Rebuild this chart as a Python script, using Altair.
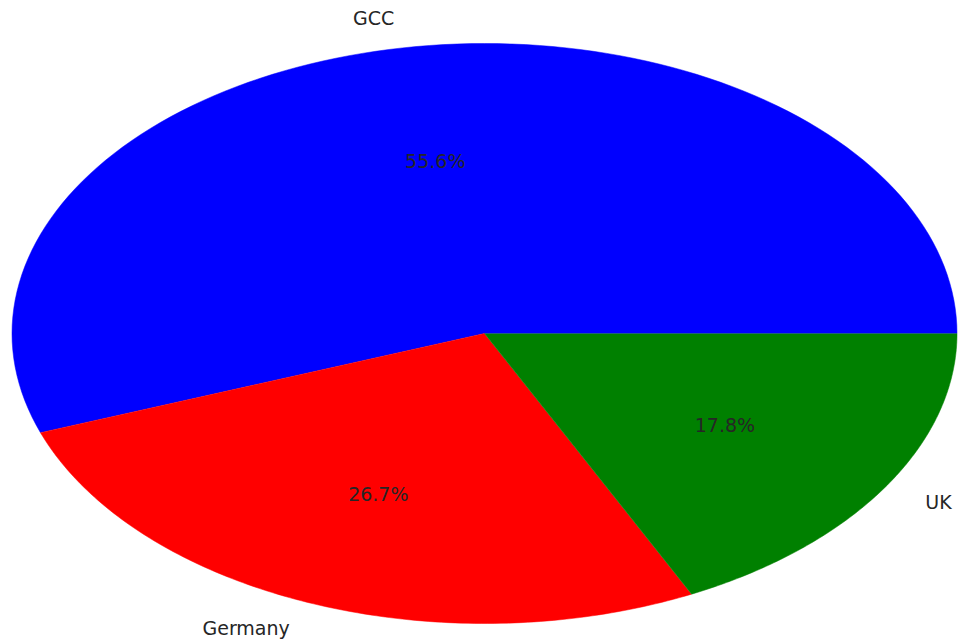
import altair as alt
import pandas as pd

categories = ["GCC", "Germany", "UK"]
values = [25, 12, 8]
colors = ["#0000FF", "#FF0000", "#008000"]

df = pd.DataFrame({"category": categories, "value": values, "order": list(range(len(categories)))})

xs = alt.Scale(domain=[-1.0254, 1.0169], nice=False, zero=False)
ys = alt.Scale(domain=[-1.0638, 1.15], nice=False, zero=False)
cs = alt.Scale(domain=categories, range=colors)

base = alt.Chart(df).transform_joinaggregate(
    total="sum(value)"
).transform_window(
    cum="sum(value)", sort=[alt.SortField("order")], frame=[None, 0]
).transform_calculate(
    start="2*PI*(datum.cum - datum.value)/datum.total",
    end="2*PI*datum.cum/datum.total",
).transform_calculate(
    mid="(datum.start + datum.end)/2"
)

wedges = base.transform_calculate(
    pts="sequence(-1, 121)"
).transform_flatten(["pts"], as_=["k"]).transform_calculate(
    t="datum.start + (datum.end - datum.start)*max(datum.k, 0)/120",
).transform_calculate(
    px="datum.k < 0 ? 0 : cos(datum.t)",
    py="datum.k < 0 ? 0 : sin(datum.t)",
).mark_line(strokeWidth=0.5).encode(
    x=alt.X("px:Q", scale=xs, axis=None),
    y=alt.Y("py:Q", scale=ys, axis=None),
    detail="category:N",
    order="k:Q",
    fill=alt.Fill("category:N", scale=cs, legend=None),
    stroke=alt.Stroke("category:N", scale=cs, legend=None),
)

FS = 19
lab = base.transform_calculate(
    lx="1.1*cos(datum.mid)",
    ly="1.1*sin(datum.mid)",
)
labels_right = lab.transform_filter("cos(datum.mid) < 0").mark_text(
    align="right", baseline="middle", font="DejaVu Sans", fontSize=FS, color="#262626"
).encode(x=alt.X("lx:Q", scale=xs, axis=None), y=alt.Y("ly:Q", scale=ys, axis=None), text="category:N")
labels_left = lab.transform_filter("cos(datum.mid) >= 0").mark_text(
    align="left", baseline="middle", font="DejaVu Sans", fontSize=FS, color="#262626"
).encode(x=alt.X("lx:Q", scale=xs, axis=None), y=alt.Y("ly:Q", scale=ys, axis=None), text="category:N")

pcts = base.transform_calculate(
    tx="0.6*cos(datum.mid)",
    ty="0.6*sin(datum.mid)",
    pct="format(datum.value/datum.total, '.1%')",
).mark_text(
    align="center", baseline="middle", font="DejaVu Sans", fontSize=FS, color="#262626"
).encode(x=alt.X("tx:Q", scale=xs, axis=None), y=alt.Y("ty:Q", scale=ys, axis=None), text="pct:N")

chart = alt.layer(wedges, labels_right, labels_left, pcts).properties(
    width=965, height=642, autosize=alt.AutoSizeParams(type="none"), padding=0
).configure_view(stroke=None)

chart.save("out.html", embed_options={"renderer": "svg", "actions": False})
